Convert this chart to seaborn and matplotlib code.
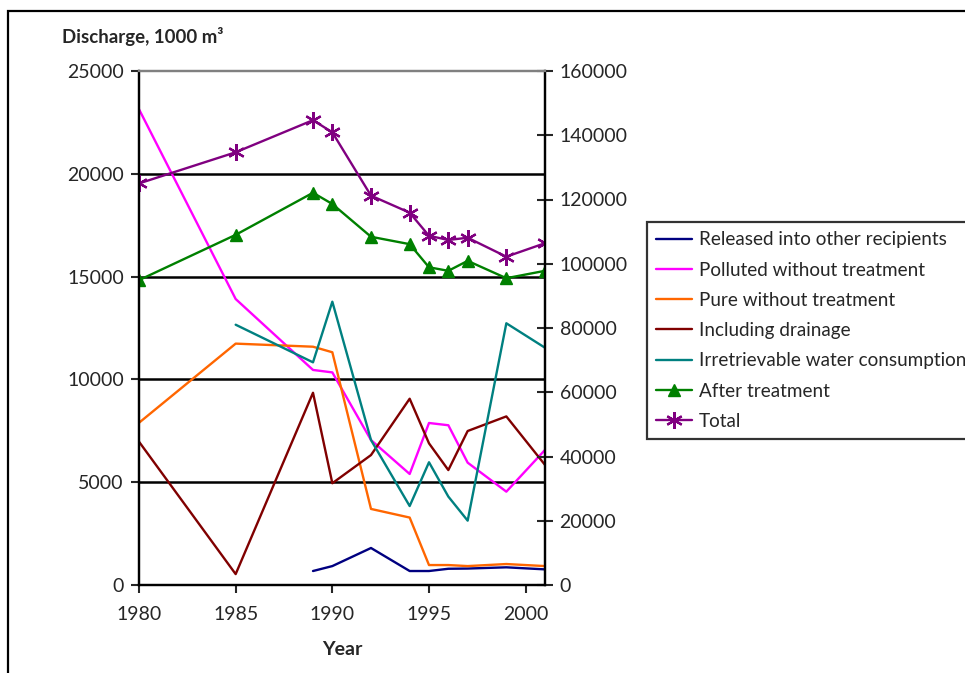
import numpy as np
import pandas as pd
import matplotlib
matplotlib.use("Agg")
import matplotlib.pyplot as plt
from matplotlib.patches import Rectangle
import seaborn as sns

# Water discharge data, thousand m3 per year
years = [1980, 1985, 1989, 1990, 1992, 1994, 1995, 1996, 1997, 1999, 2001]
released = [np.nan, np.nan, 680, 920, 1800, 680, 680, 790, 800, 860, 760]
polluted = [23140, 13910, 10460, 10340, 7050, 5400, 7880, 7770, 5950, 4540, 6570]
pure = [7890, 11740, 11590, 11320, 3700, 3280, 970, 970, 920, 1020, 920]
drainage = [6970, 530, 9350, 4950, 6320, 9060, 6890, 5590, 7490, 8200, 5840]
irretrievable = [np.nan, 12660, 10830, 13780, 7050, 3840, 5970, 4300, 3130, 12730, 11540]
after_treatment = [94900, 109000, 122100, 118600, 108400, 106100, 98900, 97800, 100900, 95500, 97800]
total = [125000, 134700, 144700, 140900, 121200, 115900, 108700, 107400, 108100, 102200, 106400]

left_ticks = [0, 5000, 10000, 15000, 20000, 25000]
right_ticks = [0, 20000, 40000, 60000, 80000, 100000, 120000, 140000, 160000]
x_ticks = [1980, 1985, 1990, 1995, 2000]

series = {
    "Released into other recipients": released,
    "Polluted without treatment": polluted,
    "Pure without treatment": pure,
    "Including drainage": drainage,
    "Irretrievable water consumption": irretrievable,
    "After treatment": after_treatment,
    "Total": total,
}
colors = {
    "Released into other recipients": "#000080",
    "Polluted without treatment": "#FF00FF",
    "Pure without treatment": "#FF6600",
    "Including drainage": "#800000",
    "Irretrievable water consumption": "#008080",
    "After treatment": "#008000",
    "Total": "#800080",
}
markers = {"After treatment": "^", "Total": (6, 2, 0)}
secondary = ["After treatment", "Total"]

df = pd.DataFrame({"Year": years, **series}).melt(
    id_vars="Year", var_name="Series", value_name="Value").dropna()

sns.set_style("white")
plt.rcParams["font.family"] = ["Lato", "DejaVu Sans"]

fig = plt.figure(figsize=(9.65, 6.73), dpi=100)
ax = fig.add_axes([139 / 965, 1 - 585 / 673, 406 / 965, 514 / 673])
ax2 = ax.twinx()

for name in series:
    sub = df[df["Series"] == name]
    target = ax2 if name in secondary else ax
    c = colors[name]
    kw = dict(lw=1.7, color=c, label=name, estimator=None, legend=False)
    if name in markers:
        kw.update(marker=markers[name], markersize=8 if name == "After treatment" else 12,
                  markeredgecolor=c, markerfacecolor=c,
                  markeredgewidth=1.0 if name == "After treatment" else 1.6)
    sns.lineplot(data=sub, x="Year", y="Value", ax=target, **kw)

for a in (ax, ax2):
    if a.get_legend() is not None:
        a.get_legend().remove()

ax.set_xlim(1980, 2001)
ax.set_ylim(0, 25000)
ax2.set_ylim(0, 160000)
ax.set_xticks(x_ticks)
ax.set_yticks(left_ticks)
ax2.set_yticks(right_ticks)

ax.grid(axis="y", color="black", lw=1.8)
ax.grid(axis="x", visible=False)
ax.yaxis.get_gridlines()[-1].set_visible(False)
ax.yaxis.get_gridlines()[0].set_visible(False)

for a in (ax, ax2):
    for side in ("left", "right", "bottom"):
        a.spines[side].set_color("black")
        a.spines[side].set_linewidth(1.6)
    a.spines["top"].set_color("#808080")
    a.spines["top"].set_linewidth(1.6)

ax.tick_params(axis="y", direction="out", length=6, width=1.5, labelsize=14, pad=5, left=True)
ax.tick_params(axis="x", direction="out", length=6, width=1.5, labelsize=14, pad=9, bottom=True)
ax2.tick_params(axis="y", direction="inout", length=11, width=1.5, labelsize=14, pad=5, right=True)
ax.yaxis.set_major_formatter(matplotlib.ticker.FuncFormatter(lambda v, p: f"{int(v)}"))
ax2.yaxis.set_major_formatter(matplotlib.ticker.FuncFormatter(lambda v, p: f"{int(v)}"))

ax.set_ylabel("")
ax2.set_ylabel("")
ax.set_xlabel("Year", fontsize=14, fontweight="bold", labelpad=13)

fig.text(62 / 965, 1 - 37 / 673, "Discharge, 1000 m³", fontsize=13.4,
         fontweight="bold", ha="left", va="center")

h1, l1 = ax.get_legend_handles_labels()
h2, l2 = ax2.get_legend_handles_labels()
leg = fig.legend(h1 + h2, l1 + l2, loc="upper left",
                 bbox_to_anchor=(647 / 965, 1 - 222 / 673),
                 fontsize=13.6, frameon=True, fancybox=False, edgecolor="black",
                 handlelength=1.9, handletextpad=0.35, labelspacing=0.7,
                 borderpad=0.5, borderaxespad=0)
leg.get_frame().set_linewidth(1.6)

# outer chart border
fig.add_artist(Rectangle((8 / 965, -0.1), 1.2, 1.1 - 11 / 673,
                         transform=fig.transFigure, fill=False,
                         edgecolor="black", lw=1.6))

fig.savefig("out.png", dpi=100)
